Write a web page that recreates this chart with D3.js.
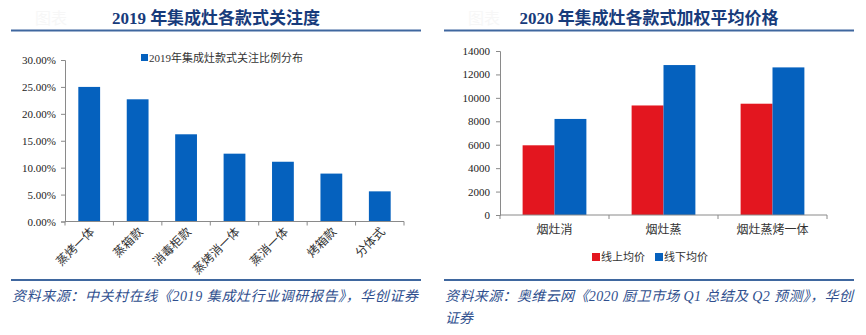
<!DOCTYPE html>
<html><head><meta charset="utf-8">
<script src="https://cdn.jsdelivr.net/npm/d3@7"></script>
<style>
html,body{margin:0;padding:0;background:#fff;}
svg{display:block;}
</style></head>
<body>
<svg id="c" width="866" height="335"></svg>
<script>
// ---- Data ----
const leftTitle = "2019 年集成灶各款式关注度";
const leftCategories = ["蒸烤一体","蒸箱款","消毒柜款","蒸烤消一体","蒸消一体","烤箱款","分体式"];
const leftValues = [25.0, 22.7, 16.2, 12.6, 11.1, 8.9, 5.6];
const leftSeriesName = "2019年集成灶款式关注比例分布";
const leftTicks = [0,5,10,15,20,25,30];
const leftSource = "资料来源：中关村在线《2019 集成灶行业调研报告》，华创证券";

const rightTitle = "2020 年集成灶各款式加权平均价格";
const rightCategories = ["烟灶消","烟灶蒸","烟灶蒸烤一体"];
const rightSeries = ["线上均价","线下均价"];
const onlineValues = [5950, 9350, 9500];
const offlineValues = [8200, 12800, 12600];
const rightTicks = [0,2000,4000,6000,8000,10000,12000,14000];
const rightSourceLines = ["资料来源：奥维云网《2020 厨卫市场 Q1 总结及 Q2 预测》，华创","证券"];

const BLUE = "#0561BE", RED = "#E3161F", NAVY = "#173B7B", SRC = "#2F4F8E", LINE = "#3F679F", AXIS = "#8a8a8a";
const SERIF = "'Liberation Serif','Times New Roman','Noto Sans CJK SC',serif";
const CJK = "'Liberation Serif','Noto Sans CJK SC',serif";

const svg = d3.select("#c");

function header(g, x0, x1, title){
  g.append("text").attr("x", x0+24).attr("y", 24).attr("font-size", 16).attr("fill", "#f7f7f7")
    .attr("font-family", CJK).text("图表");
  g.append("text").attr("x",(x0+x1)/2).attr("y",24).attr("text-anchor","middle")
    .attr("font-family",CJK).attr("font-weight","bold").attr("font-size",17).attr("fill",NAVY).text(title);
  g.append("line").attr("x1",x0).attr("x2",x1).attr("y1",30.5).attr("y2",30.5).attr("stroke",LINE).attr("stroke-width",2);
  g.append("line").attr("x1",x0).attr("x2",x1).attr("y1",280).attr("y2",280).attr("stroke",LINE).attr("stroke-width",2);
}

// ---- Left chart ----
const L = svg.append("g");
header(L, 11, 421, leftTitle);
const xL = d3.scaleBand().domain(leftCategories).range([65,404]).paddingInner(0.55).paddingOuter(0.275);
const yL = d3.scaleLinear().domain([0,30]).range([221.5,60]);
L.selectAll("rect.bar").data(leftValues).enter().append("rect")
  .attr("x",(d,i)=>xL(leftCategories[i])).attr("width",xL.bandwidth())
  .attr("y",d=>yL(d)).attr("height",d=>yL(0)-yL(d)).attr("fill",BLUE);
const yAxisL = L.append("g").attr("transform","translate(65,0)")
  .call(d3.axisLeft(yL).tickValues(leftTicks).tickSize(4).tickPadding(5).tickFormat(d=>d3.format(".2f")(d)+"%"));
yAxisL.selectAll("text").attr("font-family",SERIF).attr("font-size",11).attr("fill","#222");
yAxisL.select(".domain").attr("stroke",AXIS);
yAxisL.selectAll(".tick line").attr("stroke",AXIS);
// x axis line and boundary ticks
const stepL = xL.step();
const xAxisL = L.append("g");
xAxisL.append("line").attr("x1",65).attr("x2",404).attr("y1",yL(0)).attr("y2",yL(0)).attr("stroke",AXIS);
xAxisL.selectAll("line.t").data(d3.range(leftCategories.length+1)).enter().append("line")
  .attr("x1",i=>65+i*stepL).attr("x2",i=>65+i*stepL).attr("y1",yL(0)).attr("y2",yL(0)+4).attr("stroke",AXIS);
xAxisL.selectAll("text").data(leftCategories).enter().append("text")
  .attr("transform",d=>`translate(${xL(d)+xL.bandwidth()/2+6},${yL(0)+11}) rotate(-45)`)
  .attr("text-anchor","end").attr("font-family",CJK).attr("font-size",12).attr("fill","#333").text(d=>d);
// legend
L.append("rect").attr("x",141).attr("y",54).attr("width",7).attr("height",7).attr("fill",BLUE);
L.append("text").attr("x",149).attr("y",61.5).attr("font-family",CJK).attr("font-size",11).attr("fill","#333").text(leftSeriesName);
// source
L.append("text").attr("x",12).attr("y",301).attr("font-family",CJK).attr("font-style","italic")
  .attr("font-size",14).attr("fill",SRC).attr("textLength",406).attr("lengthAdjust","spacing").text(leftSource);

// ---- Right chart ----
const R = svg.append("g");
header(R, 444, 854, rightTitle);
const x0R = d3.scaleBand().domain(rightCategories).range([500,827]).paddingInner(0.415).paddingOuter(0.2075);
const x1R = d3.scaleBand().domain(rightSeries).range([0,x0R.bandwidth()]).padding(0);
const yR = d3.scaleLinear().domain([0,14000]).range([215,51]);
const colorR = d3.scaleOrdinal().domain(rightSeries).range([RED,BLUE]);
const rData = rightCategories.map((c,i)=>({c, v:[{s:rightSeries[0],v:onlineValues[i]},{s:rightSeries[1],v:offlineValues[i]}]}));
const grp = R.selectAll("g.grp").data(rData).enter().append("g").attr("transform",d=>`translate(${x0R(d.c)},0)`);
grp.selectAll("rect").data(d=>d.v).enter().append("rect")
  .attr("x",d=>x1R(d.s)).attr("width",x1R.bandwidth()).attr("y",d=>yR(d.v)).attr("height",d=>yR(0)-yR(d.v))
  .attr("fill",d=>colorR(d.s));
const yAxisR = R.append("g").attr("transform","translate(500,0)")
  .call(d3.axisLeft(yR).tickValues(rightTicks).tickSize(4).tickPadding(6).tickFormat(d3.format("d")));
yAxisR.selectAll("text").attr("font-family",SERIF).attr("font-size",11).attr("fill","#222");
yAxisR.select(".domain").attr("stroke",AXIS);
yAxisR.selectAll(".tick line").attr("stroke",AXIS);
const stepR = x0R.step();
const xAxisR = R.append("g");
xAxisR.append("line").attr("x1",500).attr("x2",827).attr("y1",yR(0)).attr("y2",yR(0)).attr("stroke",AXIS);
xAxisR.selectAll("line.t").data(d3.range(rightCategories.length+1)).enter().append("line")
  .attr("x1",i=>500+i*stepR).attr("x2",i=>500+i*stepR).attr("y1",yR(0)).attr("y2",yR(0)+4).attr("stroke",AXIS);
xAxisR.selectAll("text").data(rightCategories).enter().append("text")
  .attr("x",d=>x0R(d)+x0R.bandwidth()/2).attr("y",234).attr("text-anchor","middle")
  .attr("font-family",CJK).attr("font-size",12).attr("fill","#333").text(d=>d);
// legend
const legX = [592, 655];
rightSeries.forEach((s,i)=>{
  R.append("rect").attr("x",legX[i]).attr("y",253).attr("width",8).attr("height",8).attr("fill",colorR(s));
  R.append("text").attr("x",legX[i]+9).attr("y",261).attr("font-family",CJK).attr("font-size",11).attr("fill","#333").text(s);
});
R.append("text").attr("x",445).attr("y",301).attr("font-family",CJK).attr("font-style","italic")
  .attr("font-size",14).attr("fill",SRC).attr("textLength",408).attr("lengthAdjust","spacing").text(rightSourceLines[0]);
R.append("text").attr("x",445).attr("y",323).attr("font-family",CJK).attr("font-style","italic")
  .attr("font-size",14).attr("fill",SRC).text(rightSourceLines[1]);
</script>
</body></html>
